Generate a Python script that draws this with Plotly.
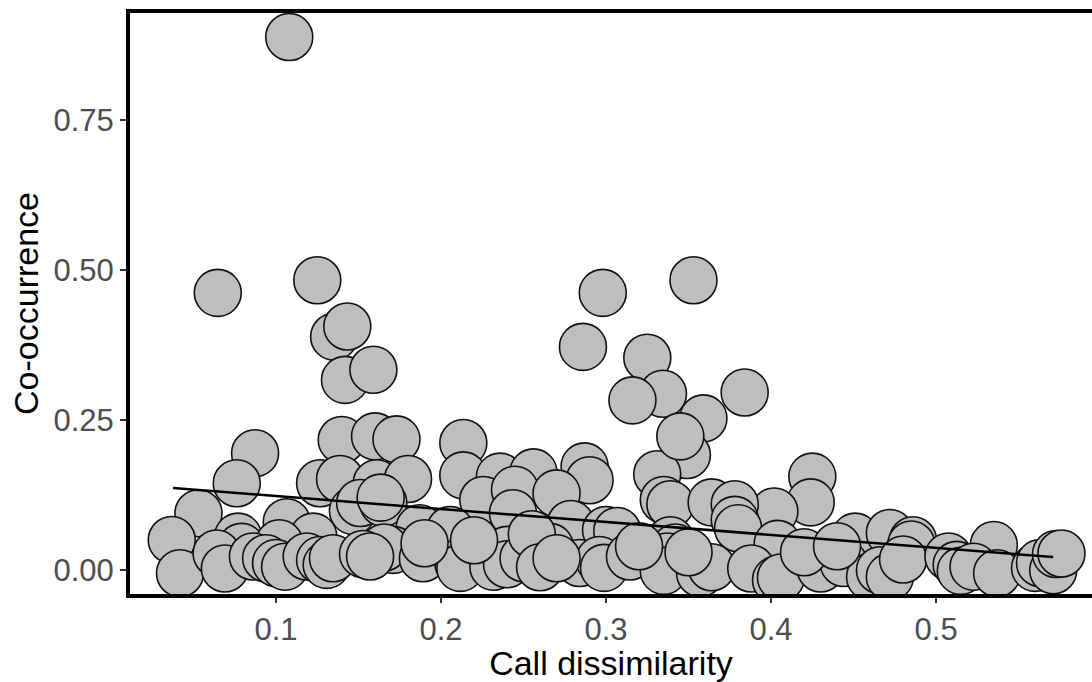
import plotly.graph_objects as go

# Call dissimilarity (x) and co-occurrence (y) for each species pair
call_dissimilarity = [
    0.108, 0.0647, 0.125, 0.1352, 0.1432, 0.1418, 0.159, 0.298, 0.353, 0.286,
    0.325, 0.3345, 0.316, 0.384, 0.359, 0.349,
    0.0873, 0.0762, 0.1398, 0.160, 0.173, 0.2135, 0.1267, 0.1388, 0.161, 0.18,
    0.2135, 0.2357, 0.256, 0.287, 0.290, 0.331, 0.425, 0.345,
    0.053, 0.1065, 0.1466, 0.151, 0.165, 0.1634, 0.2256, 0.2448, 0.27, 0.2436,
    0.335, 0.339, 0.364, 0.424, 0.402, 0.378, 0.378, 0.38,
    0.0368, 0.077, 0.079, 0.1226, 0.102, 0.187, 0.2055, 0.278, 0.2786, 0.3,
    0.3068, 0.266, 0.24, 0.171, 0.1655, 0.339, 0.342, 0.404, 0.451, 0.472,
    0.486, 0.485, 0.535,
    0.0418, 0.064, 0.069, 0.086, 0.094, 0.1, 0.1055, 0.1186, 0.1267, 0.1307,
    0.1345, 0.1527, 0.157, 0.189, 0.2105, 0.2117, 0.2317, 0.24, 0.25, 0.284,
    0.296, 0.2988, 0.3145, 0.337, 0.335, 0.357, 0.364, 0.388, 0.403, 0.406,
    0.43, 0.444, 0.46, 0.466, 0.472, 0.48, 0.5075, 0.5125, 0.515, 0.5227,
    0.537, 0.56, 0.563, 0.571, 0.5727, 0.576,
    0.19, 0.22, 0.255, 0.26, 0.27, 0.32, 0.35, 0.42, 0.44,
]
co_occurrence = [
    0.888, 0.462, 0.483, 0.389, 0.406, 0.317, 0.334, 0.462, 0.483, 0.372,
    0.354, 0.294, 0.283, 0.296, 0.253, 0.192,
    0.195, 0.145, 0.217, 0.223, 0.218, 0.212, 0.145, 0.152, 0.145, 0.152,
    0.158, 0.156, 0.163, 0.173, 0.15, 0.16, 0.156, 0.223,
    0.095, 0.08, 0.099, 0.112, 0.112, 0.121, 0.117, 0.134, 0.128, 0.095,
    0.117, 0.11, 0.113, 0.113, 0.098, 0.11, 0.084, 0.07,
    0.0505, 0.056, 0.039, 0.056, 0.045, 0.07, 0.067, 0.062, 0.077, 0.067,
    0.0655, 0.039, 0.034, 0.034, 0.038, 0.05, 0.038, 0.044, 0.056, 0.062,
    0.05, 0.043, 0.042,
    -0.005, 0.028, 0.003, 0.023, 0.02, 0.012, 0.006, 0.023, 0.017, 0.009,
    0.02, 0.027, 0.023, 0.02, 0.012, 0.004, 0.006, 0.01, 0.02, 0.012,
    0.017, 0.004, 0.023, 0.023, -0.001, -0.005, 0.005, 0.003, -0.016, -0.012,
    0.003, 0.012, -0.011, 0.0, -0.011, 0.018, 0.023, 0.009, -0.001, 0.006,
    -0.005, 0.004, 0.012, 0.0, 0.027, 0.028,
    0.045, 0.05, 0.06, 0.005, 0.02, 0.04, 0.03, 0.03, 0.04,
]

# Linear fit line (end points)
fit_x = [0.0376, 0.571]
fit_y = [0.137, 0.022]

x_ticks = [0.1, 0.2, 0.3, 0.4, 0.5]
x_tick_text = ["0.1", "0.2", "0.3", "0.4", "0.5"]
y_ticks = [0.0, 0.25, 0.5, 0.75]
y_tick_text = ["0.00", "0.25", "0.50", "0.75"]

FONT = "Liberation Sans, Arial, sans-serif"

fig = go.Figure()
fig.add_trace(go.Scatter(
    x=call_dissimilarity, y=co_occurrence, mode="markers",
    marker=dict(size=47, color="#bebebe", line=dict(color="#111111", width=1.6)),
    showlegend=False, hoverinfo="skip",
))
fig.add_trace(go.Scatter(
    x=fit_x, y=fit_y, mode="lines",
    line=dict(color="black", width=2.5),
    showlegend=False, hoverinfo="skip",
))

fig.update_layout(
    width=1092, height=682,
    margin=dict(l=130, r=0, t=13, b=88),
    paper_bgcolor="white", plot_bgcolor="white",
    font=dict(family=FONT),
)
fig.update_xaxes(
    range=[0.0115, 0.5945],
    tickvals=x_ticks, ticktext=x_tick_text,
    showgrid=False, zeroline=False,
    showline=True, linewidth=4, linecolor="black", mirror=True,
    ticks="outside", ticklen=5, tickwidth=1.5, tickcolor="#333333",
    tickfont=dict(size=31, color="#4d4d4d", family=FONT),
    title=dict(text="Call dissimilarity", font=dict(size=34, color="black", family=FONT), standoff=8),
)
fig.update_yaxes(
    range=[-0.0395, 0.928],
    tickvals=y_ticks, ticktext=y_tick_text,
    showgrid=False, zeroline=False,
    showline=True, linewidth=4, linecolor="black", mirror=False,
    ticks="outside", ticklen=6, tickwidth=1.5, tickcolor="#333333",
    tickfont=dict(size=31, color="#4d4d4d", family=FONT),
    title=dict(text="Co-occurrence", font=dict(size=34, color="black", family=FONT), standoff=6),
)

fig.write_html("out.html")
